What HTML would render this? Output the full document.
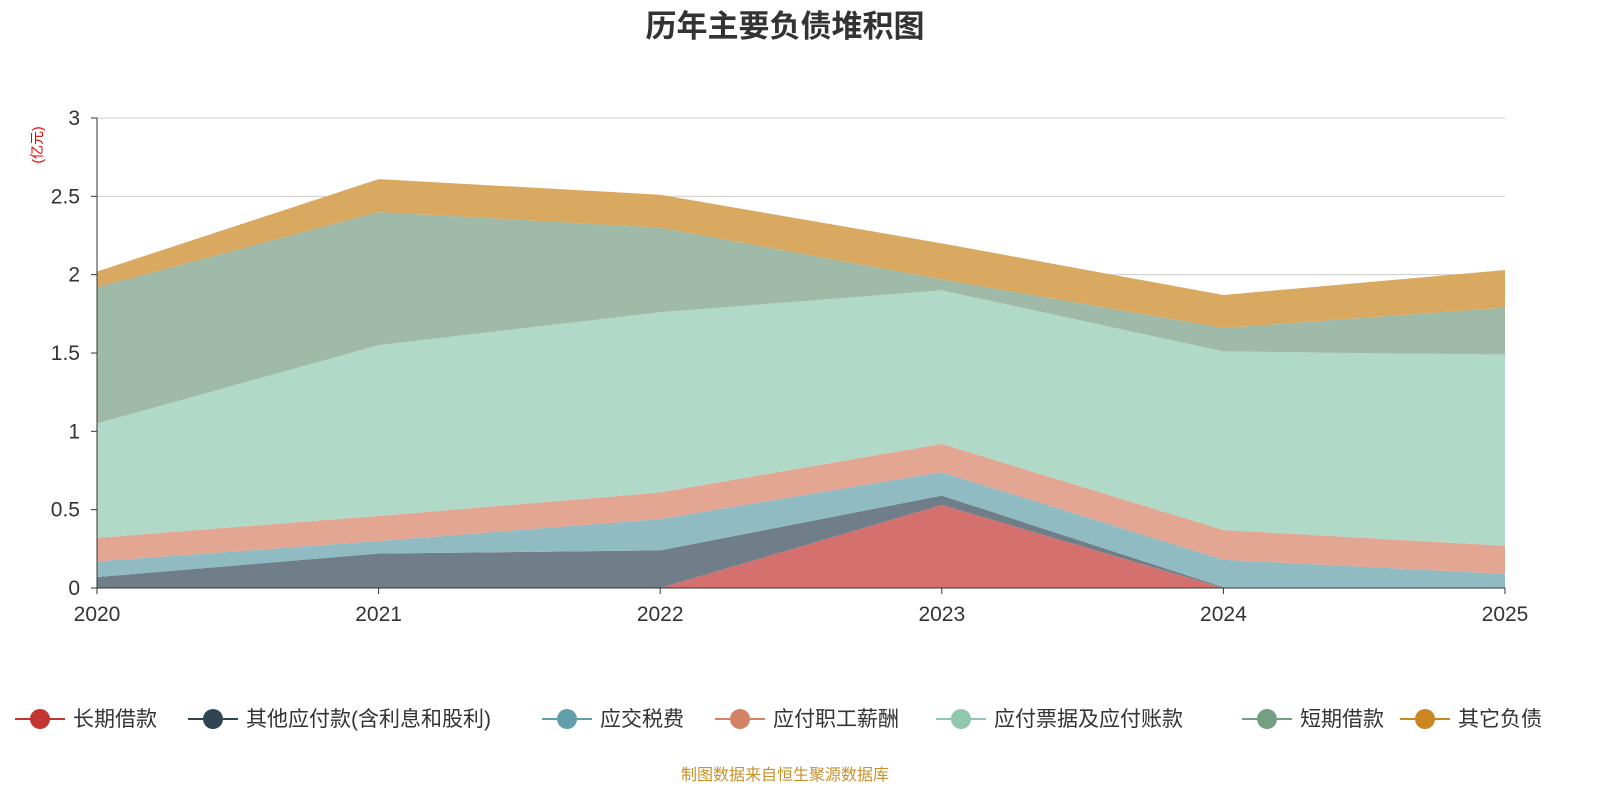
<!DOCTYPE html>
<html><head><meta charset="utf-8"><style>
body{margin:0;background:#fff;font-family:"Liberation Sans","Noto Sans CJK SC",sans-serif;}
svg text{font-family:"Liberation Sans","Noto Sans CJK SC",sans-serif;}
</style></head><body>
<svg id="c" width="1600" height="800" xmlns="http://www.w3.org/2000/svg">
<text x="785" y="37" text-anchor="middle" font-size="31" font-weight="bold" fill="#333">历年主要负债堆积图</text>
<text transform="translate(42,145) rotate(-90)" text-anchor="middle" font-size="14" fill="#e00">(亿元)</text>
<g id="grid"></g><g id="areas"></g><g id="axes"></g><g id="legend"></g>
<text x="785" y="780" text-anchor="middle" font-size="16" fill="#c8912a">制图数据来自恒生聚源数据库</text>
</svg>
<script>
const years=['2020','2021','2022','2023','2024','2025'];
const seriesNames=['长期借款','其他应付款(含利息和股利)','应交税费','应付职工薪酬','应付票据及应付账款','短期借款','其它负债'];
const s0=[0,0,0,0.53,0,0];
const s1=[0.07,0.22,0.24,0.06,0.005,0.005];
const s2=[0.10,0.08,0.20,0.15,0.175,0.085];
const s3=[0.15,0.16,0.17,0.18,0.19,0.18];
const s4=[0.73,1.09,1.15,0.98,1.14,1.22];
const s5=[0.87,0.85,0.54,0.07,0.15,0.30];
const s6=[0.10,0.21,0.21,0.23,0.21,0.24];
const yTicks=[0,0.5,1,1.5,2,2.5,3];
const yTickLabels=['0','0.5','1','1.5','2','2.5','3'];
const series=[s0,s1,s2,s3,s4,s5,s6];
const fills=['#d4716e','#6f7e88','#91bbc3','#e2a692','#b1d9c7','#9fbaa8','#d9a962'];
const lineCols=['#c23531','#2f4554','#61a0a8','#d48265','#91c7ae','#749f83','#ca8622'];
const X=i=>97+i*(1505-97)/(years.length-1);
const Y=v=>588-v*(588-118)/3;
const NS='http://www.w3.org/2000/svg';
function mk(t,a,p){const e=document.createElementNS(NS,t);for(const k in a)e.setAttribute(k,a[k]);p.appendChild(e);return e;}
const grid=document.getElementById('grid'),areas=document.getElementById('areas'),axes=document.getElementById('axes'),leg=document.getElementById('legend');
yTicks.forEach((v,i)=>{
 if(v>0){const l=mk('line',{x1:97,x2:1505,y1:Y(v),y2:Y(v),stroke:'#ccc','stroke-width':1},grid);
 
 }
 const t=mk('text',{x:80,y:Y(v)+7,'text-anchor':'end','font-size':21,fill:'#333'},axes);t.textContent=yTickLabels[i];
 
 
 mk('line',{x1:91,x2:97,y1:Y(v),y2:Y(v),stroke:'#333'},axes);
});
let base=years.map(()=>0);
series.forEach((s,k)=>{
 const top=base.map((b,i)=>b+s[i]);
 let d='M'+years.map((_,i)=>X(i)+','+Y(top[i])).join(' L');
 d+=' L'+years.map((_,i)=>X(years.length-1-i)+','+Y(base[years.length-1-i])).join(' L')+' Z';
 const p=mk('path',{d:d,fill:fills[k],stroke:'none'},areas);
 
 
 base=top;
});
mk('line',{x1:97,x2:97,y1:118,y2:588,stroke:'#333'},axes);
mk('line',{x1:97,x2:1505,y1:588,y2:588,stroke:'#333'},axes);
years.forEach((y,i)=>{
 mk('line',{x1:X(i),x2:X(i),y1:588,y2:594,stroke:'#333'},axes);
 const t=mk('text',{x:X(i),y:621,'text-anchor':'middle','font-size':21,fill:'#333'},axes);t.textContent=y;
 
 
});
const legX=[15,188,542,715,936,1242,1400];
seriesNames.forEach((n,k)=>{
 const g=mk('g',{},leg);
 
 
 const x=legX[k];
 mk('line',{x1:x,x2:x+50,y1:719,y2:719,stroke:lineCols[k],'stroke-width':2},g);
 mk('circle',{cx:x+25,cy:719,r:10,fill:lineCols[k]},g);
 const t=mk('text',{x:x+58,y:726,'font-size':21,fill:'#333'},g);t.textContent=n;
});
</script>
</body></html>
